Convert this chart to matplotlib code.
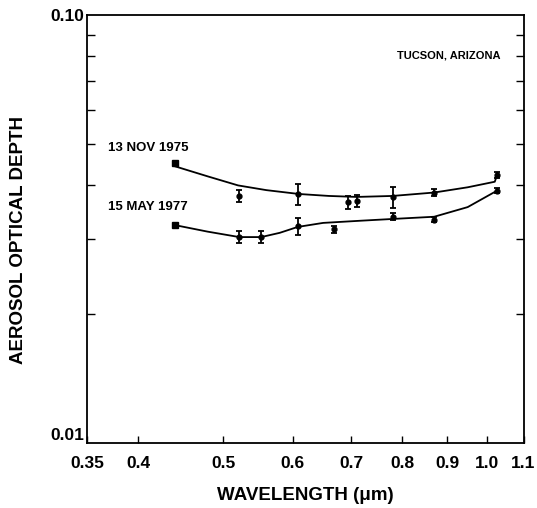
import matplotlib
matplotlib.use("Agg")
import matplotlib.pyplot as plt
from matplotlib.ticker import FixedLocator, NullFormatter

plt.rcParams['font.family'] = ['Liberation Sans', 'DejaVu Sans']

# --- data ---
wl_nov = [0.441, 0.5217, 0.6081, 0.6941, 0.7110, 0.7815, 0.8687, 1.0264]
tau_nov = [0.0451, 0.0378, 0.0382, 0.0365, 0.0368, 0.0376, 0.0385, 0.0423]
err_nov = [0.0, 0.0012, 0.0021, 0.0012, 0.0011, 0.0021, 0.0008, 0.0006]

wl_may = [0.441, 0.5217, 0.5524, 0.6081, 0.6694, 0.7815, 0.8687, 1.0264]
tau_may = [0.0323, 0.0303, 0.0303, 0.0321, 0.0316, 0.0338, 0.0333, 0.0389]
err_may = [0.0, 0.0010, 0.0010, 0.0014, 0.0006, 0.0006, 0.0004, 0.0005]

# fitted curves
curve_nov_wl = [0.441, 0.48, 0.52, 0.56, 0.61, 0.66, 0.71, 0.78, 0.87, 0.95, 1.02, 1.0264]
curve_nov = [0.0443, 0.0420, 0.0400, 0.0390, 0.0382, 0.0378, 0.0376, 0.0378, 0.0385, 0.0396, 0.0408, 0.0423]
curve_may_wl = [0.441, 0.48, 0.5217, 0.5524, 0.58, 0.6081, 0.65, 0.72, 0.78, 0.87, 0.95, 1.0264]
curve_may = [0.0323, 0.0312, 0.0303, 0.0303, 0.0310, 0.0320, 0.0327, 0.0331, 0.0334, 0.0338, 0.0356, 0.0389]

x_ticks = [0.35, 0.4, 0.5, 0.6, 0.7, 0.8, 0.9, 1.0, 1.1]
x_ticklabels = ['0.35', '0.4', '0.5', '0.6', '0.7', '0.8', '0.9', '1.0', '1.1']
y_ticks = [0.01, 0.10]
y_ticklabels = ['0.01', '0.10']
y_minor = [0.02, 0.03, 0.04, 0.05, 0.06, 0.07, 0.08, 0.09]

fig = plt.figure(figsize=(5.37, 5.08), dpi=100)
ax = fig.add_axes([0.1626, 0.1274, 0.8123, 0.8431])
ax.set_xscale('log')
ax.set_yscale('log')
ax.set_xlim(0.35, 1.1)
ax.set_ylim(0.01, 0.10)

ax.plot(curve_nov_wl, curve_nov, color='black', lw=1.3)
ax.plot(curve_may_wl, curve_may, color='black', lw=1.3)

for wl, tau, err in [(wl_nov, tau_nov, err_nov), (wl_may, tau_may, err_may)]:
    ax.plot(wl[:1], tau[:1], marker='s', ms=5, color='black', ls='none')
    ax.errorbar(wl[1:], tau[1:], yerr=err[1:], fmt='o', ms=3.5, color='black',
                ecolor='black', elinewidth=1.3, capsize=2.5, capthick=1.3)

ax.xaxis.set_major_locator(FixedLocator(x_ticks))
ax.set_xticklabels(x_ticklabels)
ax.xaxis.set_minor_locator(FixedLocator([]))
ax.xaxis.set_minor_formatter(NullFormatter())
ax.yaxis.set_major_locator(FixedLocator(y_ticks))
ax.set_yticklabels(y_ticklabels)
ax.yaxis.set_minor_locator(FixedLocator(y_minor))
ax.yaxis.set_minor_formatter(NullFormatter())

ax.tick_params(axis='x', which='major', direction='in', length=5, width=1.0,
               labelsize=12.5, pad=9)
ax.tick_params(axis='y', which='major', direction='in', length=0, width=1.0,
               labelsize=12.5, pad=2)
ax.tick_params(axis='y', which='minor', direction='in', length=6, width=1.0,
               left=True, right=True)
for lab in ax.get_xticklabels() + ax.get_yticklabels():
    lab.set_fontweight('bold')
ax.get_yticklabels()[0].set_va('bottom')

for s in ax.spines.values():
    s.set_linewidth(1.3)

ax.set_xlabel('WAVELENGTH (μm)', fontsize=13.5, fontweight='bold', labelpad=12)
fig.text(19 / 537, 1 - 240 / 508, 'AEROSOL OPTICAL DEPTH', fontsize=13.5,
         fontweight='bold', rotation=90, ha='center', va='center')

ax.text(0.3696, 0.0490, '13 NOV 1975', fontsize=9.5, fontweight='bold', ha='left', va='center')
ax.text(0.3696, 0.0357, '15 MAY 1977', fontsize=9.5, fontweight='bold', ha='left', va='center')
ax.text(0.789, 0.0805, 'TUCSON, ARIZONA', fontsize=8, fontweight='bold', ha='left', va='center')

fig.savefig('out.png', dpi=100)
